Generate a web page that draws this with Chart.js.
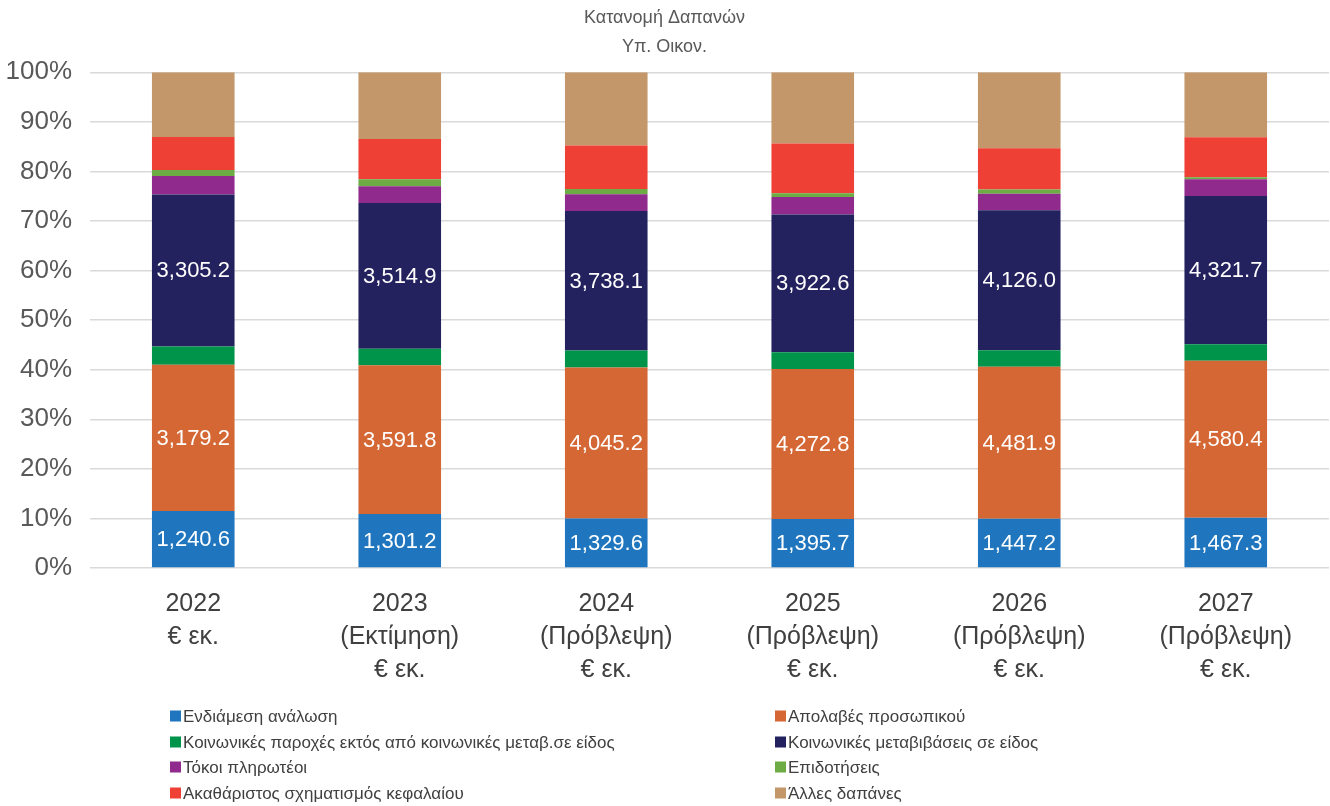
<!DOCTYPE html>
<html>

<head>
    <title>Κατανομή Δαπανών</title>
    <script src="https://cdn.jsdelivr.net/npm/chart.js"></script>
    <style>
        html, body { margin: 0; padding: 0; background: #fff; }
        #wrap { width: 1330px; height: 806px; position: relative; }
    </style>
</head>

<body>
<div id="wrap"><canvas id="spendChart"></canvas></div>
<script>
    // categories (multi-line tick labels)
    var years = [
        ['2022', '€ εκ.'],
        ['2023', '(Εκτίμηση)', '€ εκ.'],
        ['2024', '(Πρόβλεψη)', '€ εκ.'],
        ['2025', '(Πρόβλεψη)', '€ εκ.'],
        ['2026', '(Πρόβλεψη)', '€ εκ.'],
        ['2027', '(Πρόβλεψη)', '€ εκ.']
    ];

    var seriesNames = [
        'Ενδιάμεση ανάλωση',
        'Απολαβές προσωπικού',
        'Κοινωνικές παροχές εκτός από κοινωνικές μεταβ.σε είδος',
        'Κοινωνικές μεταβιβάσεις σε είδος',
        'Τόκοι πληρωτέοι',
        'Επιδοτήσεις',
        'Ακαθάριστος σχηματισμός κεφαλαίου',
        'Άλλες δαπάνες'
    ];

    // € εκ. per year (labelled ones, the rest)
    var endiamesi   = [1240.6, 1301.2, 1329.6, 1395.7, 1447.2, 1467.3];
    var apolaves    = [3179.2, 3591.8, 4045.2, 4272.8, 4481.9, 4580.4];
    var koinParoxes = [400, 403, 456, 475, 482, 484];
    var koinMetav   = [3305.2, 3514.9, 3738.1, 3922.6, 4126.0, 4321.7];
    var tokoi       = [400, 403, 446, 494, 482, 487];
    var epidotiseis = [130, 169, 145, 113, 127, 58];
    var askef       = [720, 973, 1164, 1410, 1218, 1168];
    var alles       = [1405, 1611, 1962, 2030, 2234, 1897];

    var yTicks = [0, 10, 20, 30, 40, 50, 60, 70, 80, 90, 100];

    var colors = ['#1F76BE', '#D46734', '#00934A', '#24225E', '#902A8C', '#6DAB45', '#EE4035', '#C3976A'];
    var allSeries = [endiamesi, apolaves, koinParoxes, koinMetav, tokoi, epidotiseis, askef, alles];
    var labelled = [0, 1, 3];

    var totals = years.map(function (y, i) {
        return allSeries.reduce(function (s, arr) { return s + arr[i]; }, 0);
    });

    var datasets = allSeries.map(function (arr, k) {
        return {
            label: seriesNames[k],
            data: arr.map(function (v, i) { return v / totals[i] * 100; }),
            raw: arr,
            backgroundColor: colors[k],
            borderWidth: 0,
            categoryPercentage: 1.0,
            barPercentage: 0.4
        };
    });

    function fmt(v) {
        return v.toLocaleString('en-US', { minimumFractionDigits: 1, maximumFractionDigits: 1 });
    }

    // white value labels inside the three big segments
    var valueLabels = {
        id: 'valueLabels',
        afterDatasetsDraw: function (chart) {
            var ctx = chart.ctx;
            ctx.save();
            ctx.fillStyle = '#ffffff';
            ctx.font = '22px "Liberation Sans", Arial, sans-serif';
            ctx.textAlign = 'center';
            ctx.textBaseline = 'middle';
            labelled.forEach(function (k) {
                var meta = chart.getDatasetMeta(k);
                meta.data.forEach(function (bar, i) {
                    var mid = (bar.y + bar.base) / 2;
                    ctx.fillText(fmt(chart.data.datasets[k].raw[i]), bar.x, mid + 1);
                });
            });
            ctx.restore();
        }
    };

    // two-column legend under the axis
    var gridLegend = {
        id: 'gridLegend',
        afterDraw: function (chart) {
            var ctx = chart.ctx;
            ctx.save();
            ctx.font = '17px "Liberation Sans", Arial, sans-serif';
            ctx.textBaseline = 'middle';
            ctx.textAlign = 'left';
            var colX = [170, 775];
            var rowY = [716, 742, 767, 793];
            chart.data.datasets.forEach(function (ds, k) {
                var x = colX[k % 2];
                var y = rowY[Math.floor(k / 2)];
                ctx.fillStyle = ds.backgroundColor;
                ctx.fillRect(x, y - 5.5, 11, 11);
                ctx.fillStyle = '#404040';
                ctx.fillText(ds.label, x + 13, y + 1);
            });
            ctx.restore();
        }
    };

    var ctx = document.getElementById('spendChart').getContext('2d');
    var chart = new Chart(ctx, {
        type: 'bar',
        data: {
            labels: years,
            datasets: datasets
        },
        plugins: [valueLabels, gridLegend],
        options: {
            responsive: true,
            maintainAspectRatio: false,
            animation: false,
            layout: {
                padding: { left: 0, right: 1, top: 0, bottom: 107 }
            },
            plugins: {
                legend: { display: false },
                tooltip: { enabled: false },
                title: {
                    display: true,
                    text: ['Κατανομή Δαπανών', 'Υπ. Οικον.'],
                    color: '#595959',
                    font: { family: '"Liberation Sans", Arial, sans-serif', size: 18, weight: 'normal', lineHeight: 1.62 },
                    padding: { top: 3, bottom: 11 }
                }
            },
            scales: {
                x: {
                    stacked: true,
                    grid: { display: false },
                    border: { display: false },
                    ticks: {
                        color: '#404040',
                        font: { family: '"Liberation Sans", Arial, sans-serif', size: 25, lineHeight: 1.32 },
                        padding: 12,
                        maxRotation: 0,
                        autoSkip: false
                    }
                },
                y: {
                    stacked: true,
                    min: 0,
                    max: 100,
                    afterBuildTicks: function (axis) {
                        axis.ticks = yTicks.map(function (v) { return { value: v }; });
                    },
                    afterFit: function (axis) {
                        axis.width = 90;
                    },
                    grid: {
                        color: '#D9D9D9',
                        lineWidth: 1.5,
                        drawTicks: false
                    },
                    border: { display: false },
                    ticks: {
                        color: '#595959',
                        font: { family: '"Liberation Sans", Arial, sans-serif', size: 26 },
                        padding: 18,
                        callback: function (v) { return v + '%'; }
                    }
                }
            }
        }
    });
</script>
</body>

</html>
